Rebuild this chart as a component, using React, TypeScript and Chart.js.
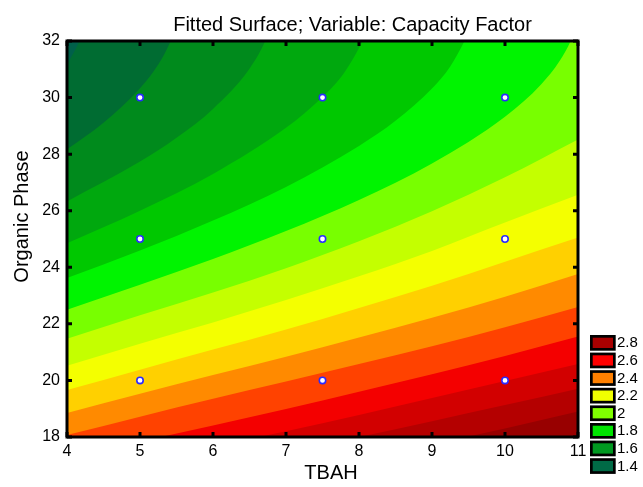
import React, { useEffect, useRef } from "react";
import { Chart, registerables } from "chart.js";
Chart.register(...registerables);

const chartTitle = "Fitted Surface; Variable: Capacity Factor";
const xTitle = "TBAH";
const yTitle = "Organic Phase";

const xMin = 4, xMax = 11, xStep = 1;
const yMin = 18, yMax = 32, yStep = 2;

// contour boundaries, [TBAH, Organic Phase]
const c1 = [[4, 31.16], [4.17, 32], [4.45, 34]];
const c2 = [[4, 28.17], [4.5, 29.11], [5, 30.33], [5.25, 31.17], [5.42, 32], [5.7, 34]];
const c3 = [[4, 26.33], [5, 27.74], [5.5, 28.58], [6, 29.6], [6.5, 31.02], [6.715, 32], [7, 34]];
const c4 = [[4, 24.85], [5, 26.0], [6, 27.3], [7, 28.93], [7.5, 30.02], [7.8, 30.89], [8.05, 32], [8.4, 34]];
const c5 = [[4, 23.62], [5, 24.59], [6, 25.65], [7, 26.84], [8, 28.29], [8.5, 29.18], [9, 30.32], [9.25, 31.1], [9.445, 32], [9.8, 34]];
const c6 = [[4, 22.5], [5, 23.38], [6, 24.29], [7, 25.28], [8, 26.38], [9, 27.67], [10, 29.32], [10.5, 30.48], [10.75, 31.3], [10.9, 32], [11.2, 34]];
const c7 = [[4, 21.47], [5, 22.3], [6, 23.11], [7, 23.97], [8, 24.92], [9, 25.98], [10, 27.18], [11, 28.52]];
const c8 = [[4, 20.52], [5, 21.3], [6, 22.05], [7, 22.84], [8, 23.68], [9, 24.58], [10, 25.58], [11, 26.56]];
const c9 = [[4, 19.66], [5, 20.38], [6, 21.09], [7, 21.8], [8, 22.56], [9, 23.35], [10, 24.2], [11, 25.05]];
const c10 = [[4, 18.85], [5, 19.53], [6, 20.19], [7, 20.84], [8, 21.52], [9, 22.22], [10, 22.96], [11, 23.76]];
const c11 = [[4, 18.07], [5, 18.72], [6, 19.35], [7, 19.96], [8, 20.58], [9, 21.21], [10, 21.88], [11, 22.6]];
const c12 = [[4, 17.3], [5, 17.84], [6, 18.41], [7, 18.99], [8, 19.6], [9, 20.22], [10, 20.86], [11, 21.55]];
const c13 = [[4, 16.6], [5, 17.13], [6, 17.65], [7, 18.2], [8, 18.78], [9, 19.38], [10, 19.98], [11, 20.58]];
const c14 = [[4, 15.95], [5, 16.45], [6, 16.96], [7, 17.47], [8, 18.0], [9, 18.56], [10, 19.13], [11, 19.71]];
const c15 = [[4, 15.3], [5, 15.79], [6, 16.28], [7, 16.77], [8, 17.27], [9, 17.75], [10, 18.3], [11, 18.9]];
const contours = [c1, c2, c3, c4, c5, c6, c7, c8, c9, c10, c11, c12, c13, c14, c15];

// band colours, lowest (top-left) to highest (bottom-right)
const bandColors = [
  "#00604a", "#006c32", "#008a1c", "#00a80e", "#00c800", "#00f400", "#78ff00", "#c4ff00",
  "#f4ff00", "#ffd000", "#ff8a00", "#ff4200", "#f40000", "#d20000", "#b40000", "#980000",
];

const legendLabels = ["2.8", "2.6", "2.4", "2.2", "2", "1.8", "1.6", "1.4"];
const legendColors = ["#a80000", "#ff0000", "#ff8000", "#f0ff00", "#80ff00", "#00e400", "#009820", "#006a46"];

const designX = [5, 7.5, 10, 5, 7.5, 10, 5, 7.5, 10];
const designY = [30, 30, 30, 25, 25, 25, 20, 20, 20];

const FONT = "'Liberation Sans', Arial, sans-serif";

const decor = {
  id: "decor",
  beforeDatasetsDraw(chart: any) {
    const { ctx, chartArea: a } = chart;
    ctx.save();
    ctx.fillStyle = bandColors[bandColors.length - 1];
    ctx.fillRect(a.left, a.top, a.right - a.left, a.bottom - a.top);
    ctx.restore();
  },
  afterDraw(chart: any) {
    const { ctx, chartArea: a, scales } = chart;
    ctx.save();
    ctx.strokeStyle = "#000";
    ctx.lineWidth = 3;
    ctx.strokeRect(a.left, a.top, a.right - a.left, a.bottom - a.top);
    ctx.lineWidth = 3;
    ctx.beginPath();
    scales.x.ticks.forEach((t: any) => {
      const p = scales.x.getPixelForValue(t.value);
      ctx.moveTo(p, a.bottom); ctx.lineTo(p, a.bottom - 5);
      ctx.moveTo(p, a.top); ctx.lineTo(p, a.top + 5);
    });
    scales.y.ticks.forEach((t: any) => {
      const p = scales.y.getPixelForValue(t.value);
      ctx.moveTo(a.left, p); ctx.lineTo(a.left + 5, p);
      ctx.moveTo(a.right, p); ctx.lineTo(a.right - 5, p);
    });
    ctx.stroke();

    ctx.fillStyle = "#000";
    ctx.font = `20px ${FONT}`;
    ctx.textBaseline = "alphabetic";
    ctx.textAlign = "center";
    ctx.fillText(chartTitle, 352.5, 30.5);
    ctx.fillText(xTitle, 331, 478.5);
    ctx.save();
    ctx.translate(27.8, 216.5);
    ctx.rotate(-Math.PI / 2);
    ctx.fillText(yTitle, 0, 0);
    ctx.restore();

    // legend
    ctx.font = `15px ${FONT}`;
    ctx.textAlign = "left";
    ctx.textBaseline = "middle";
    legendLabels.forEach((lab, i) => {
      const top = 335 + i * 17.6;
      ctx.fillStyle = legendColors[i];
      ctx.fillRect(591.3, top + 1.3, 23, 13);
      ctx.lineWidth = 2.7;
      ctx.strokeStyle = "#000";
      ctx.strokeRect(591.35, top + 1.35, 23, 13);
      ctx.fillStyle = "#000";
      ctx.fillText(lab, 617, top + 8.3);
    });
    ctx.restore();
  },
};

export default function App() {
  const ref = useRef<HTMLCanvasElement | null>(null);
  useEffect(() => {
    document.body.style.margin = "0";
    const canvas = ref.current;
    if (!canvas) return;
    const datasets: any[] = [
      {
        type: "line",
        data: designX.map((x, i) => ({ x, y: designY[i] })),
        showLine: false,
        fill: false,
        pointRadius: 3.2,
        pointBorderWidth: 1.6,
        pointBackgroundColor: "#ffffff",
        pointBorderColor: "#2a2aff",
        borderColor: "#2a2aff",
        backgroundColor: "#ffffff",
      },
      ...contours.map((c, i) => ({
        type: "line",
        data: c.map(([x, y]) => ({ x, y })),
        fill: "end",
        backgroundColor: bandColors[i],
        borderColor: "rgba(0,0,0,0)",
        borderWidth: 0.5,
        pointRadius: 0,
        cubicInterpolationMode: "monotone",
      })),
    ];
    const chart = new Chart(canvas, {
      type: "line",
      data: { datasets },
      options: {
        animation: false,
        responsive: true,
        maintainAspectRatio: false,
        layout: { padding: { top: 41, right: 65, left: 0, bottom: 0 } },
        plugins: { legend: { display: false }, tooltip: { enabled: false }, title: { display: false } },
        scales: {
          x: {
            type: "linear",
            min: xMin,
            max: xMax,
            grid: { display: false, drawTicks: false },
            border: { display: false },
            ticks: { stepSize: xStep, color: "#000", font: { size: 16, family: FONT }, padding: 5 },
            afterFit: (s: any) => { s.height = 50; },
          },
          y: {
            type: "linear",
            min: yMin,
            max: yMax,
            grid: { display: false, drawTicks: false },
            border: { display: false },
            ticks: { stepSize: yStep, color: "#000", font: { size: 16, family: FONT }, padding: 7 },
            afterFit: (s: any) => { s.width = 67; },
          },
        },
      },
      plugins: [decor],
    });
    return () => chart.destroy();
  }, []);
  return (
    <div style={{ position: "relative", width: 643, height: 487 }}>
      <canvas ref={ref} />
    </div>
  );
}
